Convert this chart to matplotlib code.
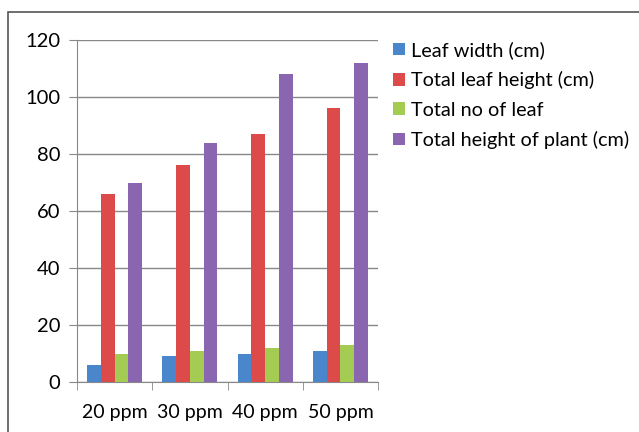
import numpy as np
import matplotlib.pyplot as plt
from matplotlib.patches import Rectangle

categories = ['20 ppm', '30 ppm', '40 ppm', '50 ppm']
leaf_width = [6, 9, 10, 11]
leaf_height = [66, 76, 87, 96]
no_of_leaf = [10, 11, 12, 13]
plant_height = [70, 84, 108, 112]

series = [
    ('Leaf width (cm)', leaf_width, '#4a86cc'),
    ('Total leaf height (cm)', leaf_height, '#dc4a4a'),
    ('Total no of leaf', no_of_leaf, '#a4cc52'),
    ('Total height of plant (cm)', plant_height, '#8a66b0'),
]

plt.rcParams['font.family'] = ['Lato', 'DejaVu Sans']

fig = plt.figure(figsize=(6.39, 4.32), dpi=100)
# axes placed in figure pixels: x 77..378, y 40..382 (from top)
W, H = 639, 432
ax = fig.add_axes([77 / W, (H - 382) / H, (378 - 77) / W, (382 - 40) / H])

# outer frame of the chart area
fig.patches.append(Rectangle((8 / W, -0.1), 1.2, (H - 12) / H + 0.1,
                             transform=fig.transFigure, fill=False,
                             edgecolor='#555555', linewidth=1.2))

x = np.arange(len(categories))
bw = 0.182
for i, (name, vals, col) in enumerate(series):
    ax.bar(x + (i - 1.5) * bw, vals, bw, color=col, label=name, zorder=3)

ax.set_xlim(-0.5, len(categories) - 0.5)
ax.set_ylim(0, 120)
ax.set_yticks(range(0, 121, 20))
ax.yaxis.grid(True, color='#888888', linewidth=1, zorder=0)

ax.set_xticks(x)
ax.set_xticklabels(categories, fontsize=14)
ax.set_xticks(np.arange(-0.5, len(categories)), minor=True)
ax.tick_params(axis='x', which='major', length=0, pad=16)
ax.tick_params(axis='x', which='minor', length=6, color='#888888', direction='out')
ax.tick_params(axis='y', length=6, color='#888888', labelsize=14.5, pad=6)

for s in ['top', 'right']:
    ax.spines[s].set_visible(False)
ax.spines['left'].set_color('#888888')
ax.spines['bottom'].set_color('#888888')

ax.legend(loc='upper left', bbox_to_anchor=(1.025, 1.02), frameon=False,
          fontsize=14.3, handlelength=0.6, handleheight=0.6,
          handletextpad=0.3, labelspacing=0.62, borderaxespad=0)

plt.savefig('out.png', dpi=100)
